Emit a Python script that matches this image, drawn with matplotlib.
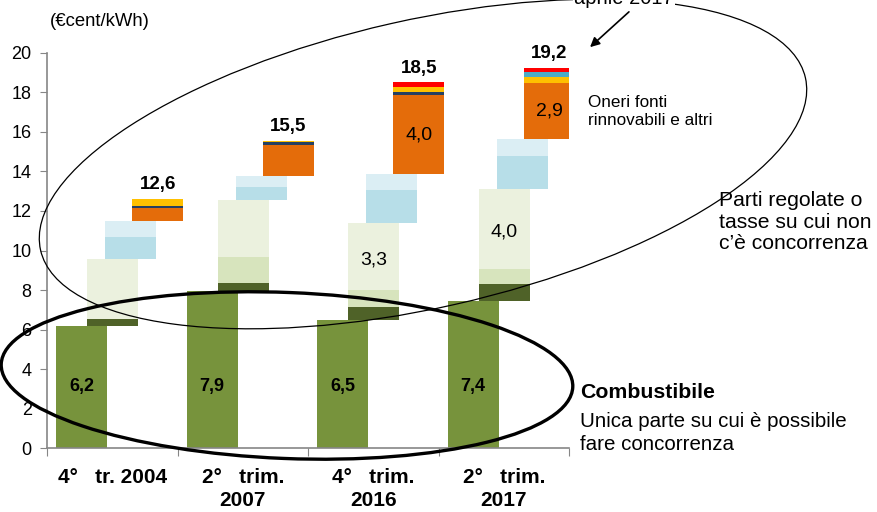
import matplotlib
matplotlib.use("Agg")
import matplotlib.pyplot as plt
from matplotlib.patches import Ellipse
import numpy as np

plt.rcParams['font.family'] = ['Liberation Sans', 'DejaVu Sans']

# periodi
categorie = ["4°   tr. 2004", "2°   trim.\n2007", "4°   trim.\n2016", "2°   trim.\n2017"]

# combustibile (primo gradino)
combustibile = [6.2, 7.95, 6.5, 7.45]
etichette_comb = ["6,2", "7,9", "6,5", "7,4"]

# secondo gradino
verde_scuro = [0.32, 0.42, 0.64, 0.84]
verde_medio = [0.0, 1.29, 0.84, 0.77]
verde_chiaro = [3.03, 2.89, 3.40, 4.03]

# terzo gradino
blu = [1.15, 0.68, 1.66, 1.70]
azzurro = [0.80, 0.54, 0.81, 0.85]

# quarto gradino: oneri e altri
arancio = [0.66, 1.56, 4.01, 2.84]
blu_scuro = [0.11, 0.15, 0.13, 0.0]
giallo = [0.35, 0.07, 0.27, 0.27]
celeste = [0.0, 0.0, 0.0, 0.27]
rosso = [0.0, 0.0, 0.25, 0.23]

totali = ["12,6", "15,5", "18,5", "19,2"]
etichette_verde_chiaro = ["", "", "3,3", "4,0"]
etichette_arancio = ["", "", "4,0", "2,9"]

fig = plt.figure(figsize=(8.77, 5.12), dpi=100)
ax = fig.add_axes([47 / 877, 1 - 448.3 / 512, 522 / 877, (448.3 - 52.7) / 512])

x = np.arange(len(categorie))
larg = 0.39
offs = [0.071, 0.309, 0.446, 0.653]   # bordo sinistro di ogni gradino dentro il gruppo


def pila(pos, serie, base, colori):
    bottom = np.array(base, dtype=float)
    for s, c in zip(serie, colori):
        s = np.array(s, dtype=float)
        ax.bar(pos, s, width=larg, bottom=bottom, color=c, align='edge', linewidth=0)
        bottom = bottom + s
    return bottom


x0 = x - 0.5
top1 = pila(x0 + offs[0], [combustibile], np.zeros(4), ['#77933C'])
top2 = pila(x0 + offs[1], [verde_scuro, verde_medio, verde_chiaro], top1,
            ['#4F6228', '#D7E4BD', '#EBF1DE'])
top3 = pila(x0 + offs[2], [blu, azzurro], top2, ['#B7DEE8', '#DBEEF4'])
top4 = pila(x0 + offs[3], [arancio, blu_scuro, giallo, celeste, rosso], top3,
            ['#E46C0A', '#254061', '#FFC000', '#4BACC6', '#FF0000'])

# etichette
for i in x:
    ax.text(x0[i] + offs[0] + larg / 2, 3.1, etichette_comb[i], ha='center', va='center',
            fontsize=13, fontweight='bold', color='black')
    ax.annotate(totali[i], (x0[i] + offs[3] + larg / 2, top4[i]), xytext=(0, 4),
                textcoords='offset points', ha='center', va='bottom',
                fontsize=13.5, fontweight='bold')
    if etichette_verde_chiaro[i]:
        yv = top1[i] + verde_scuro[i] + verde_medio[i] + verde_chiaro[i] / 2
        ax.text(x0[i] + offs[1] + larg / 2, yv - 0.15, etichette_verde_chiaro[i],
                ha='center', va='center', fontsize=14)
    if etichette_arancio[i]:
        ya = top3[i] + arancio[i] / 2
        ax.text(x0[i] + offs[3] + larg / 2, ya, etichette_arancio[i],
                ha='center', va='center', fontsize=14)

ax.set_xlim(-0.5, 3.5)
ax.set_ylim(0, 20)
ax.set_yticks(range(0, 21, 2))
ax.set_xticks(np.arange(-0.5, 4, 1))
ax.set_xticklabels([])
ax.set_xticks(x, minor=True)
ax.set_xticklabels(categorie, minor=True, fontsize=15, fontweight='bold', linespacing=1.3)
ax.tick_params(axis='x', which='minor', length=0, pad=14)
ax.tick_params(axis='x', which='major', length=6, color='#868686', direction='out')
ax.tick_params(axis='y', length=5, color='#868686', labelsize=13, pad=6)
for s in ['top', 'right']:
    ax.spines[s].set_visible(False)
for s in ['left', 'bottom']:
    ax.spines[s].set_color('#868686')
    ax.spines[s].set_linewidth(1.2)

# livello annotazioni in pixel
ov = fig.add_axes([0, 0, 1, 1], zorder=5)
ov.set_xlim(0, 877)
ov.set_ylim(512, 0)
ov.axis('off')
ov.patch.set_alpha(0)

ov.add_patch(Ellipse((423, 164), 784, 288, angle=-12.7, fill=False, lw=0.9, ec='black'))
ov.add_patch(Ellipse((287, 375.5), 572, 166, angle=2.3, fill=False, lw=2.4, ec='black'))

ov.text(50, 22, "(€cent/kWh)", fontsize=13.3, ha='left', va='center')
ov.text(588, 95, "Oneri fonti\nrinnovabili e altri", fontsize=12.3, ha='left', va='top',
        linespacing=1.25)
ov.text(719, 222, "Parti regolate o\ntasse su cui non\nc’è concorrenza", fontsize=15.2,
        ha='left', va='center', linespacing=1.18)
ov.text(580, 392, "Combustibile", fontsize=15.3, fontweight='bold', ha='left', va='center')
ov.text(580, 433, "Unica parte su cui è possibile\nfare concorrenza", fontsize=14.8,
        ha='left', va='center', linespacing=1.25)
ov.text(624, 4, "aprile 2017", fontsize=14.5, ha='center', va='baseline',
        bbox=dict(fc='white', ec='none', pad=1))
ov.annotate("", xy=(588, 49), xytext=(631, 10),
            arrowprops=dict(arrowstyle='-|>', color='black', lw=1.2, mutation_scale=14))

fig.savefig("out.png", dpi=100)
